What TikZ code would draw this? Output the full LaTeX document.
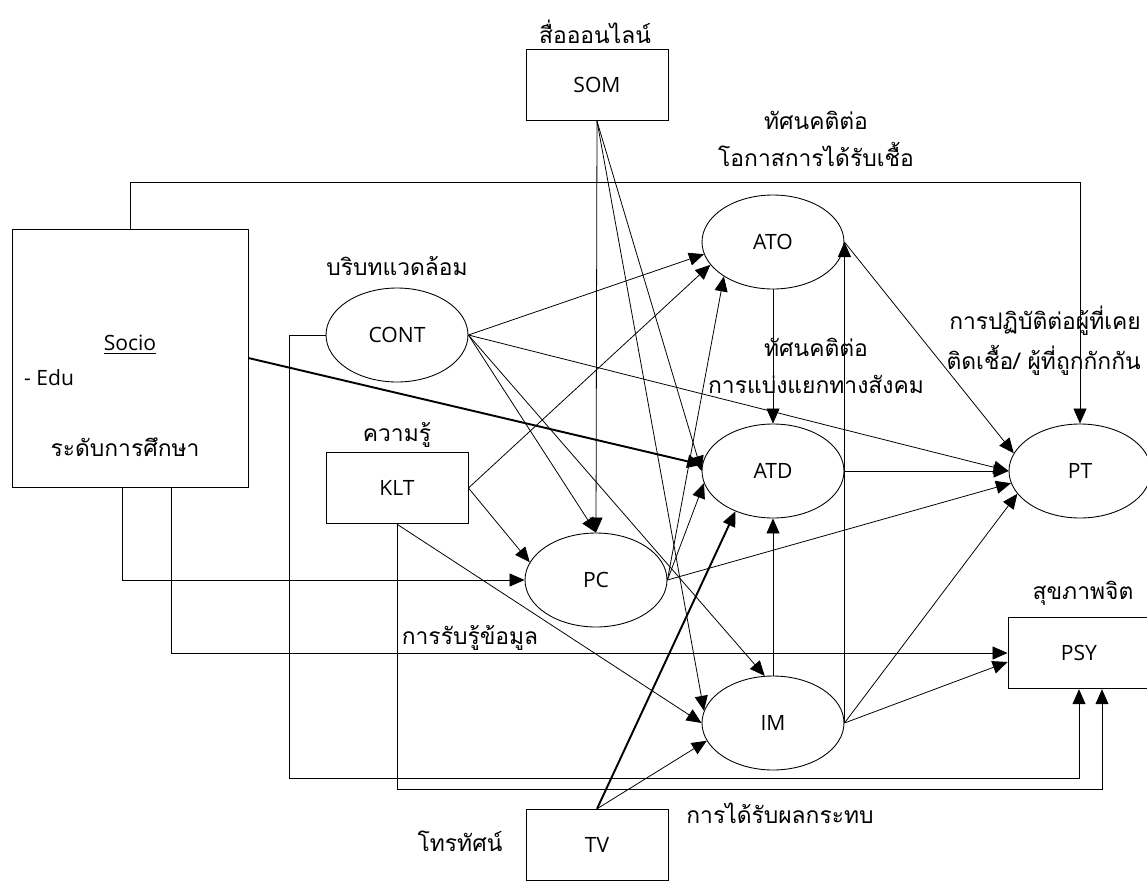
\documentclass[tikz,border=0pt]{standalone}
\usepackage{fontspec}
\setmainfont{Open Sans}
\newfontfamily\thaifont[Script=Thai]{Loma}
\usepackage{tikz}
\usetikzlibrary{calc,arrows.meta,shapes.geometric}

\tikzset{
  lat/.style={font=\fontsize{12}{14}\selectfont},
  th/.style={font=\thaifont\fontsize{13}{21}\selectfont},
  box/.style={draw, line width=0.5pt, lat, minimum width=2.84cm, minimum height=1.43cm},
  latent/.style={ellipse, draw, line width=0.5pt, lat, inner sep=0pt, minimum width=2.84cm, minimum height=1.88cm},
  arr/.style={-{Triangle[length=0.3cm,width=0.26cm]}, line width=0.45pt},
  thickarr/.style={arr, line width=1.1pt}
}

\begin{document}
\begin{tikzpicture}[x=0.02cm, y=-0.02cm]
    \useasboundingbox (0,0) rectangle (1147,880);
    % boxes and ellipses
    \node[draw, line width=0.5pt, minimum width=4.72cm, minimum height=5.16cm] (socio) at (130,358) {};
    \node[lat] (sociolbl) at (130,345) {\underline{Socio}};
    \node[lat, anchor=west] (edu) at (18,378) {- Edu};
    \node[th] (edulbl) at (125,447) {ระดับการศึกษา};
    \node[box] (som) at (597,85) {SOM};
    \node[box] (klt) at (397,488) {KLT};
    \node[box] (tv) at (597,845) {TV};
    \node[box] (psy) at (1079,653) {PSY};
    \node[latent] (cont) at (397,335) {CONT};
    \node[latent] (pc) at (596,580) {PC};
    \node[latent] (ato) at (773,242) {ATO};
    \node[latent] (atd) at (773,471) {ATD};
    \node[latent] (im) at (773,723) {IM};
    \node[latent] (pt) at (1080,471) {PT};
    % thai labels
    \node[th] (somlbl) at (595,32) {สื่อออนไลน์};
    \node[th, align=center] (atolbl) at (816,139) {ทัศนคติต่อ\\โอกาสการได้รับเชื้อ};
    \node[th] (contlbl) at (397,266) {บริบทแวดล้อม};
    \node[th] (kltlbl) at (397,435) {ความรู้};
    \node[th, align=center] (atdlbl) at (816,366) {ทัศนคติต่อ\\การแบ่งแยกทางสังคม};
    \node[th, anchor=east] (ptlbl1) at (1147,321) {การปฏิบัติต่อผู้ที่เคย};
    \node[th, anchor=east] (ptlbl2) at (1147,360) {ติดเชื้อ/ ผู้ที่ถูกกักกัน};
    \node[th] (psylbl) at (1083,593) {สุขภาพจิต};
    \node[th] (pclbl) at (470,638) {การรับรู้ข้อมูล};
    \node[th] (imlbl) at (780,813) {การได้รับผลกระทบ};
    \node[th] (tvlbl) at (460,841) {โทรทัศน์};
    % paths
    \draw[arr] (socio.north) -- ++(0,-46) -| (pt.north);
    \draw[thickarr] (socio.east) -- (atd.175);
    \draw[arr] ($(socio.south)+(-8,0)$) |- (pc.west);
    \draw[arr] ($(socio.south)+(41,0)$) |- (psy.west);
    \draw[arr] (cont.west) -- ++(-36,0) -- ++(0,443) -| (psy.south);
    \draw[arr] (klt.south) -- ++(0,265) -| ($(psy.south)+(23,0)$);
    \draw[arr] (cont.east) -- (ato.190);
    \draw[arr] (cont.east) -- (pt.west);
    \draw[arr] (cont.east) -- (pc.north);
    \draw[arr] (cont.east) -- (im.100);
    \draw[arr] (klt.east) -- (ato.200);
    \draw[arr] (klt.east) -- (pc.165);
    \draw[arr] (klt.south) -- (im.west);
    \draw[arr] (som.south) -- (pc.north);
    \draw[arr] (som.south) -- (atd.west);
    \draw[arr] (som.south) -- (im.170);
    \draw[arr] (pc.east) -- (ato.215);
    \draw[arr] (pc.east) -- (atd.190);
    \draw[arr] (pc.east) -- (pt.190);
    \draw[arr] (ato.south) -- (atd.north);
    \draw[arr] (ato.east) -- (pt.165);
    \draw[arr] (atd.east) -- (pt.west);
    \draw[arr] (im.north) -- (atd.south);
    \draw[arr] (im.east) -- (ato.east);
    \draw[arr] (im.east) -- (pt.200);
    \draw[arr] (im.east) -- ($(psy.west)+(0,9)$);
    \draw[thickarr] (tv.north) -- (atd.227);
    \draw[arr] (tv.north) -- (im.195);
\end{tikzpicture}
\end{document}
